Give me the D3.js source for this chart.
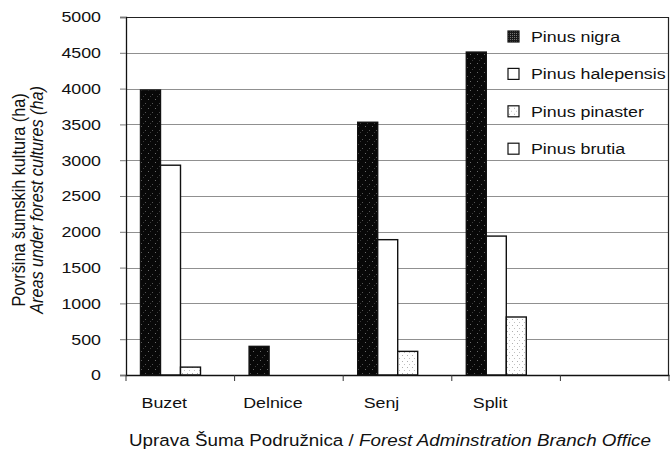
<!DOCTYPE html>
<html>
<head>
<meta charset="utf-8">
<script src="https://cdn.jsdelivr.net/npm/d3@7"></script>
<style>
  body { margin: 0; background: #fff; }
  text { font-family: "Liberation Sans", Arial, sans-serif; fill: #111; }
</style>
</head>
<body>
<div id="chart"></div>
<script>
// data
const offices = ["Buzet", "Delnice", "Senj", "Split", ""];
const species = ["Pinus nigra", "Pinus halepensis", "Pinus pinaster", "Pinus brutia"];
const pinus_nigra = [3980, 400, 3530, 4510, 0];
const pinus_halepensis = [2930, 0, 1890, 1940, 0];
const pinus_pinaster = [110, 0, 330, 810, 0];
const pinus_brutia = [0, 0, 0, 0, 0];
const y_ticks = [0, 500, 1000, 1500, 2000, 2500, 3000, 3500, 4000, 4500, 5000];

const series = [pinus_nigra, pinus_halepensis, pinus_pinaster, pinus_brutia];
const fills = ["url(#nigra)", "#fff", "url(#pinaster)", "#fff"];
const swatch_fills = ["url(#nigra_leg)", "#fff", "url(#pinaster)", "#fff"];

const margins = { top: 17, right: 1, bottom: 74, left: 126 };
const W = 670, H = 449;
const width = W - margins.left - margins.right;
const height = H - margins.top - margins.bottom;

const x_scale = d3.scaleBand().domain(offices.map((d, i) => i)).range([0, width]);
const x_inner = d3.scaleBand().domain(species).range([14.5, 94.5]);
const y_scale = d3.scaleLinear().domain([0, 5000]).range([height, 0]);

// the scanned figure is a bit wider than plain Arial, so stretch text sideways
function stretch(sel, s) {
	sel.each(function () {
		const t = d3.select(this);
		const x = +t.attr("x") || 0;
		t.attr("transform", "translate(" + x + ",0) scale(" + s + ",1) translate(" + (-x) + ",0)");
	});
}

const svg = d3.select("#chart")
	.append("svg")
	.attr("width", W)
	.attr("height", H);

const defs = svg.append("defs");
// stippled black for P. nigra
const pn = defs.append("pattern").attr("id", "nigra")
	.attr("patternUnits", "userSpaceOnUse").attr("width", 7).attr("height", 9);
pn.append("rect").attr("width", 7).attr("height", 9).attr("fill", "#080808");
pn.append("rect").attr("x", 1).attr("y", 1).attr("width", 1).attr("height", 1).attr("fill", "#6a6a6a");
pn.append("rect").attr("x", 5).attr("y", 5).attr("width", 1).attr("height", 1).attr("fill", "#555");
pn.append("rect").attr("x", 3).attr("y", 7).attr("width", 1).attr("height", 1).attr("fill", "#3a3a3a");
const pl = defs.append("pattern").attr("id", "nigra_leg")
	.attr("patternUnits", "userSpaceOnUse").attr("width", 2).attr("height", 2);
pl.append("rect").attr("width", 2).attr("height", 2).attr("fill", "#1a1a1a");
pl.append("rect").attr("width", 1).attr("height", 1).attr("fill", "#777");
// sparse dots for P. pinaster
const pp = defs.append("pattern").attr("id", "pinaster")
	.attr("patternUnits", "userSpaceOnUse").attr("width", 5).attr("height", 6);
pp.append("rect").attr("width", 5).attr("height", 6).attr("fill", "#fff");
pp.append("rect").attr("x", 1).attr("y", 2).attr("width", 1).attr("height", 1).attr("fill", "#b0b0b0");
pp.append("rect").attr("x", 3).attr("y", 5).attr("width", 1).attr("height", 1).attr("fill", "#c0c0c0");

const g = svg.append("g")
	.attr("transform", "translate(" + margins.left + "," + margins.top + ")");

// grid lines
g.append("g").selectAll("line")
	.data(y_ticks.slice(1, -1))
	.join("line")
	.attr("x1", 0).attr("x2", width)
	.attr("y1", d => Math.round(y_scale(d)) + 0.5)
	.attr("y2", d => Math.round(y_scale(d)) + 0.5)
	.attr("stroke", "#909090")
	.attr("stroke-width", 1);

// frame top / right
g.append("path")
	.attr("d", "M0,0.5H" + (width - 0.5) + "V" + height)
	.attr("fill", "none").attr("stroke", "#222").attr("stroke-width", 1.2);

// bars
series.forEach((vals, s) => {
	g.append("g").selectAll("rect")
		.data(vals.map((v, i) => ({ i, v })).filter(d => d.v > 0))
		.join("rect")
		.attr("x", d => x_scale(d.i) + x_inner(species[s]))
		.attr("width", x_inner.bandwidth())
		.attr("y", d => y_scale(d.v))
		.attr("height", d => height - y_scale(d.v))
		.attr("fill", fills[s])
		.attr("stroke", "#111")
		.attr("stroke-width", 1.4);
});

// y axis
const y_axis = d3.axisLeft(y_scale).tickValues(y_ticks).tickFormat(d3.format("d"))
	.tickSize(6).tickPadding(19);
const ya = g.append("g").call(y_axis);
ya.select(".domain").attr("stroke", "#111").attr("stroke-width", 1.3);
ya.selectAll(".tick line").attr("stroke", "#777");
ya.selectAll("text").attr("font-size", 15.5).attr("fill", "#111")
	.attr("font-family", "Liberation Sans, Arial, sans-serif")
	.call(stretch, 1.15);

// x axis
const x_axis = d3.axisBottom(x_scale).tickSize(0).tickFormat(i => offices[i]).tickPadding(22);
const xa = g.append("g").attr("transform", "translate(0," + height + ")").call(x_axis);
xa.select(".domain").attr("stroke", "#111").attr("stroke-width", 1.3);
xa.selectAll(".tick text").attr("font-size", 15.5).attr("fill", "#111")
	.attr("font-family", "Liberation Sans, Arial, sans-serif")
	.attr("x", -16)
	.call(stretch, 1.15);
// band separators
xa.append("g").selectAll("line")
	.data(d3.range(offices.length + 1))
	.join("line")
	.attr("x1", i => i * x_scale.step()).attr("x2", i => i * x_scale.step())
	.attr("y1", 0).attr("y2", 6)
	.attr("stroke", "#333");

// legend
const legend = g.append("g").attr("transform", "translate(382,14)");
const li = legend.selectAll("g").data(species).join("g")
	.attr("transform", (d, i) => "translate(0," + (i * 37.4) + ")");
li.append("rect").attr("width", 11).attr("height", 11)
	.attr("fill", (d, i) => swatch_fills[i])
	.attr("stroke", "#111").attr("stroke-width", 1.2);
li.append("text").attr("x", 23).attr("y", 11).attr("font-size", 15.5).text(d => d)
	.call(stretch, 1.15);

// axis titles
const yt = svg.append("text")
	.attr("transform", "translate(25,200) scale(1.15,1) rotate(-90)")
	.attr("text-anchor", "middle").attr("font-size", 16.2);
yt.append("tspan").attr("x", 0).attr("dy", 0).text("Površina šumskih kultura (ha)");
yt.append("tspan").attr("x", 0).attr("dy", 16).attr("font-style", "italic").text("Areas under forest cultures (ha)");

const xt = svg.append("text")
	.attr("x", 390).attr("y", 446)
	.attr("text-anchor", "middle").attr("font-size", 16.5);
xt.append("tspan").text("Uprava Šuma Podružnica / ");
xt.append("tspan").attr("font-style", "italic").text("Forest Adminstration Branch Office");
xt.call(stretch, 1.14);
</script>
</body>
</html>
